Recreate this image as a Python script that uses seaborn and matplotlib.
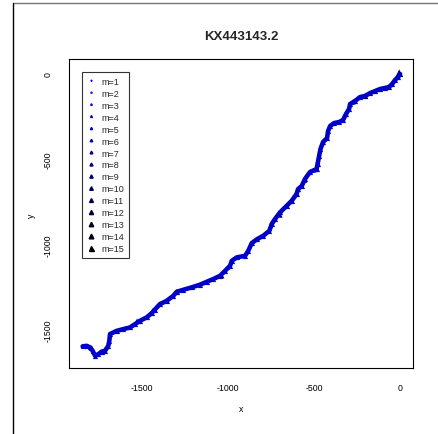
import matplotlib
matplotlib.use("Agg")
import matplotlib.pyplot as plt
from matplotlib.lines import Line2D
import seaborn as sns
import pandas as pd

title = "KX443143.2"

# walk traced from origin to the far end
walk_x = [0, -12, -29, -46, -64, -87, -116, -145, -174, -203, -232, -261, -290, -296,
          -314, -331, -354, -383, -406, -418, -424, -447, -462, -470, -479, -485, -523,
          -552, -571, -592, -601, -629, -658, -697, -726, -745, -759, -794, -830, -861,
          -881, -900, -948, -977, -987, -1016, -1045, -1084, -1122, -1161, -1210, -1258,
          -1297, -1316, -1355, -1394, -1423, -1442, -1471, -1510, -1539, -1568, -1607,
          -1645, -1684, -1688, -1694, -1713, -1733, -1752, -1771, -1785, -1800, -1819, -1843]
walk_y = [0, -18, -35, -59, -76, -82, -88, -100, -112, -129, -135, -158, -176, -205,
          -235, -270, -282, -288, -305, -335, -376, -399, -440, -481, -528, -558, -575,
          -616, -657, -675, -704, -744, -773, -812, -851, -880, -920, -949, -969, -992,
          -1037, -1067, -1076, -1096, -1125, -1155, -1184, -1203, -1219, -1236, -1252, -1266,
          -1278, -1301, -1331, -1350, -1382, -1403, -1428, -1448, -1468, -1487, -1497,
          -1507, -1526, -1566, -1595, -1624, -1629, -1644, -1652, -1624, -1604, -1595, -1598]

# points visited many times
hot_x = [-5, -70, -203, -273, -424, -494, -552, -633, -697, -999, -1035, -1297, -1355,
         -1434, -1527, -1790, -1841]
hot_y = [5, -76, -129, -164, -370, -569, -628, -745, -828, -1139, -1184, -1278, -1331,
         -1385, -1450, -1608, -1597]
hot_m = [15, 9, 12, 10, 6, 5, 7, 8, 10, 6, 10, 11, 9, 8, 10, 11, 6]

levels = list(range(1, 16))
x_ticks = [-1500, -1000, -500, 0]
y_ticks = [0, -500, -1000, -1500]

sns.set_theme(style="white")
plt.rcParams['font.family'] = ['Liberation Sans', 'DejaVu Sans']
plt.rcParams['axes.unicode_minus'] = False


def m_color(m):
    return (0, 0, 1 - (m - 1) / 14)


fig = plt.figure(figsize=(4.38, 4.35), dpi=100)
ax = fig.add_axes([69 / 438, 1 - 369 / 435, 344 / 438, 309 / 435])

walk = pd.DataFrame({"x": walk_x, "y": walk_y})
sns.lineplot(data=walk, x="x", y="y", sort=False, estimator=None,
             color="#0000c8", lw=3.3, ax=ax)
sns.scatterplot(data=walk, x="x", y="y", marker="^", color="#0000c8",
                s=14, linewidth=0, ax=ax)

hot = pd.DataFrame({"x": hot_x, "y": hot_y, "m": hot_m})
sns.scatterplot(data=hot, x="x", y="y", hue="m", size="m", marker="^",
                palette={m: m_color(m) for m in levels},
                sizes={m: (0.8 + 0.3 * m) ** 2 for m in levels},
                linewidth=0, legend=False, ax=ax)

ax.set_xlim(-1922, 75)
ax.set_ylim(-1725, 88)
ax.set_xticks(x_ticks)
ax.set_xticklabels([str(t) for t in x_ticks])
ax.set_yticks(y_ticks)
ax.set_yticklabels([str(t) for t in y_ticks], rotation=90, va="center")
ax.tick_params(direction="out", length=5, width=0.8, labelsize=6.3,
               colors="black", pad=6)
ax.tick_params(axis="y", pad=7)
for s in ax.spines.values():
    s.set_color("black")
    s.set_linewidth(0.8)
ax.set_xlabel("")
ax.set_ylabel("")

fig.text(241 / 438, 1 - 410 / 435, "x", ha="center", va="center", fontsize=6.3, color="black")
fig.text(31 / 438, 1 - 216 / 435, "y", ha="center", va="center", fontsize=6.3,
         rotation=90, color="black")
fig.text(241 / 438, 1 - 37 / 435, title, ha="center", va="center",
         fontsize=9.5, fontweight="bold")

handles = [Line2D([], [], marker="^", ls="", color=m_color(m),
                  markersize=0.6 + 0.2 * m, label=f"m={m}") for m in levels]
leg = ax.legend(handles=handles, loc="upper left", bbox_to_anchor=(0.037, 0.959),
                frameon=True, fancybox=False, edgecolor="black", fontsize=6.5,
                handlelength=1.0, handletextpad=0.6, labelspacing=0.33,
                borderpad=0.55, borderaxespad=0)
leg.get_frame().set_linewidth(0.8)

fig.add_artist(Line2D([13 / 438, 1], [1 - 4 / 435, 1 - 4 / 435],
                      transform=fig.transFigure, color="#777777", lw=1))
fig.add_artist(Line2D([13 / 438, 13 / 438], [0, 1 - 4 / 435],
                      transform=fig.transFigure, color="black", lw=1))

fig.savefig("out.png", dpi=100)
